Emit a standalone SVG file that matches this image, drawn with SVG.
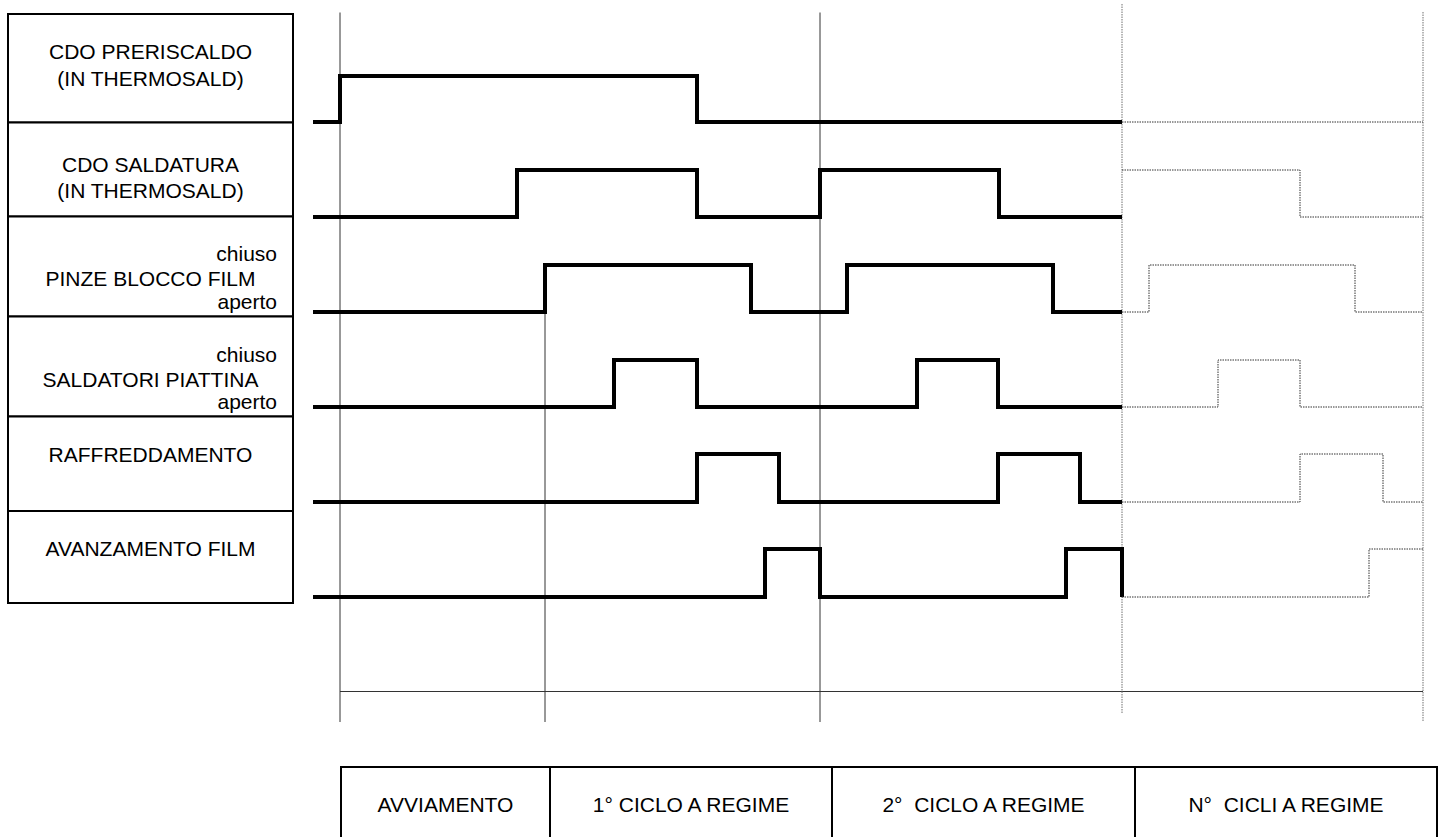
<svg xmlns="http://www.w3.org/2000/svg" width="1443" height="837" viewBox="0 0 1443 837">
<style>
.box{fill:#fff;stroke:#000;stroke-width:2}
.t{font-family:"Liberation Sans",Arial,sans-serif;font-size:21px;fill:#000;white-space:pre}
.c{text-anchor:middle}
.r{text-anchor:end}
.sig{fill:none;stroke:#000;stroke-width:4;stroke-linejoin:miter;stroke-linecap:butt}
.dot{fill:none;stroke:#333;stroke-width:1;stroke-dasharray:1.5 1}
.grid{fill:none;stroke:#333;stroke-width:1}
.gdot{fill:none;stroke:#888;stroke-width:1.2;stroke-dasharray:1.5 1}
</style>
<rect width="1443" height="837" fill="#fff"/>
<g id="labels">
<g id="lbl-preriscaldo"><rect class="box" x="8" y="14" width="285" height="108.5"/><text class="t c" x="150.5" y="59">CDO PRERISCALDO</text><text class="t c" x="150.5" y="86">(IN THERMOSALD)</text></g>
<g id="lbl-saldatura"><rect class="box" x="8" y="122.5" width="285" height="94"/><text class="t c" x="150.5" y="172">CDO SALDATURA</text><text class="t c" x="150.5" y="198">(IN THERMOSALD)</text></g>
<g id="lbl-pinze"><rect class="box" x="8" y="216.5" width="285" height="100"/><text class="t r" x="277" y="261">chiuso</text><text class="t c" x="150.5" y="286">PINZE BLOCCO FILM</text><text class="t r" x="277" y="309">aperto</text></g>
<g id="lbl-saldatori"><rect class="box" x="8" y="316.5" width="285" height="100"/><text class="t r" x="277" y="362">chiuso</text><text class="t c" x="150.5" y="387">SALDATORI PIATTINA</text><text class="t r" x="277" y="409">aperto</text></g>
<g id="lbl-raffreddamento"><rect class="box" x="8" y="416.5" width="285" height="94.5"/><text class="t c" x="150.5" y="462">RAFFREDDAMENTO</text></g>
<g id="lbl-avanzamento"><rect class="box" x="8" y="511" width="285" height="92"/><text class="t c" x="150.5" y="556">AVANZAMENTO FILM</text></g>
</g>
<g id="connectors">
<path class="grid" d="M340 12.5V722M545 312V722M820 12.5V722M340 691.5H1423"/>
<path class="gdot" d="M1122 4V713M1423 12V722"/>
</g>
<g id="signals">
<g id="sig-preriscaldo"><path class="sig" d="M313 122H340V76H697V122H1122"/><path class="dot" d="M1122 122H1423"/></g>
<g id="sig-saldatura"><path class="sig" d="M313 217H517V170H697V217H820V170H999V217H1122"/><path class="dot" d="M1122 170H1300V217H1423"/></g>
<g id="sig-pinze"><path class="sig" d="M313 312H545V265H751V312H847V265H1053V312H1122"/><path class="dot" d="M1122 312H1149V265H1355V312H1423"/></g>
<g id="sig-saldatori"><path class="sig" d="M313 407H614V360H697V407H917V360H998V407H1122"/><path class="dot" d="M1122 407H1218V360H1300V407H1423"/></g>
<g id="sig-raffreddamento"><path class="sig" d="M313 502H697V454H779V502H998V454H1080V502H1122"/><path class="dot" d="M1122 502H1300V454H1383V502H1423"/></g>
<g id="sig-avanzamento"><path class="sig" d="M313 597H765V549H820V597H1066V549H1122V597"/><path class="dot" d="M1122 597H1369V549H1423"/></g>
</g>
<g id="phases">
<g id="ph-avviamento"><rect class="box" x="341" y="767" width="209" height="90"/><text class="t c" x="445.5" y="812">AVVIAMENTO</text></g>
<g id="ph-ciclo1"><rect class="box" x="550" y="767" width="282" height="90"/><text class="t c" x="691" y="812">1° CICLO A REGIME</text></g>
<g id="ph-ciclo2"><rect class="box" x="832" y="767" width="303" height="90"/><text class="t c" x="983.5" y="812">2°  CICLO A REGIME</text></g>
<g id="ph-ciclin"><rect class="box" x="1135" y="767" width="302" height="90"/><text class="t c" x="1286" y="812">N°  CICLI A REGIME</text></g>
</g>
</svg>
